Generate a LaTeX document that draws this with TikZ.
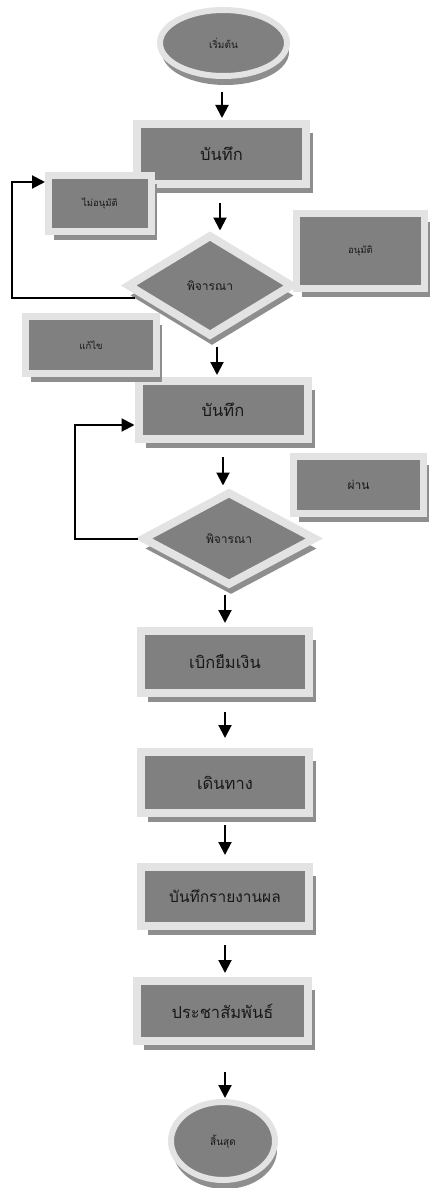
\documentclass[tikz,border=0pt]{standalone}
\usepackage{fontspec}
\newfontfamily\thaifont[Script=Thai]{Loma}
\usetikzlibrary{shapes.geometric,shadows,arrows.meta}
\definecolor{boxgray}{HTML}{808080}
\definecolor{rimgray}{HTML}{E3E3E3}
\definecolor{shadegray}{HTML}{8E8E8E}
\definecolor{txtgray}{HTML}{181818}
\tikzset{
  base/.style={fill=boxgray, draw=rimgray, inner sep=0pt, text=txtgray, align=center},
  proc/.style={base, rectangle, line width=8pt, minimum width=169pt, minimum height=60pt,
     drop shadow={shadow xshift=7pt, shadow yshift=-9pt, fill=shadegray, opacity=1},
     font=\thaifont\fontsize{16.5}{19}\selectfont},
  side/.style={base, rectangle, line width=7pt,
     drop shadow={shadow xshift=5pt, shadow yshift=-8pt, fill=shadegray, opacity=1},
     font=\thaifont\fontsize{9.5}{11}\selectfont},
  decide/.style={base, diamond, line width=8pt, line join=miter,
     drop shadow={shadow xshift=2pt, shadow yshift=-10pt, fill=shadegray, opacity=1},
     font=\thaifont\fontsize{12}{14}\selectfont},
  term/.style={base, ellipse, line width=6pt,
     drop shadow={shadow xshift=2pt, shadow yshift=-9pt, fill=shadegray, opacity=1},
     font=\thaifont\fontsize{10}{12}\selectfont},
  arr/.style={line width=2pt, draw=black, -{Triangle[width=13pt,length=13pt]}}
}
\begin{document}
\begin{tikzpicture}[x=1pt,y=-1pt]
\useasboundingbox[fill=white] (0,0) rectangle (429,1188);
% terminals
\node[term, minimum width=127pt, minimum height=66pt] (start) at (223.5,43) {เริ่มต้น};
\node[term, minimum width=104pt, minimum height=78pt] (stop) at (223,1141) {สิ้นสุด};
% process boxes
\node[proc] (b1) at (221.5,154) {บันทึก};
\node[proc, minimum height=58pt] (b2) at (223,410) {บันทึก};
\node[proc, minimum width=168pt, minimum height=62pt] (b3) at (225,662) {เบิกยืมเงิน};
\node[proc, minimum width=168pt, minimum height=61pt] (b4) at (225,782.5) {เดินทาง};
\node[proc, minimum width=168pt, minimum height=59pt, font=\thaifont\fontsize{15.5}{18}\selectfont] (b5) at (225,896.5) {บันทึกรายงานผล};
\node[proc, minimum width=171pt, minimum height=60pt] (b6) at (222.5,1011) {ประชาสัมพันธ์};
% side boxes
\node[side, minimum width=103pt, minimum height=56pt] (no) at (100,203.5) {ไม่อนุมัติ};
\node[side, minimum width=128pt, minimum height=75pt] (yes) at (360.5,251) {อนุมัติ};
\node[side, minimum width=131pt, minimum height=57pt] (fix) at (91,345) {แก้ไข};
\node[side, minimum width=130pt, minimum height=57pt, font=\thaifont\fontsize{12}{14}\selectfont] (pass) at (358.5,485) {ผ่าน};
% decisions
\node[decide, minimum width=166pt, minimum height=102pt] (d1) at (210,285.5) {พิจารณา};
\node[decide, minimum width=174pt, minimum height=94pt] (d2) at (229,538.5) {พิจารณา};
% helper coordinates
\coordinate (c1) at (222,0);
\coordinate (c2) at (220,0);
\coordinate (c3) at (217,0);
\coordinate (c4) at (223,0);
\coordinate (c5) at (225,0);
\coordinate (r1) at (135,298);
\coordinate (k1) at (12,298);
\coordinate (k2) at (12,182);
\coordinate (k3) at (75,538.5);
\coordinate (k4) at (75,425);
% main flow
\draw[arr, shorten <=13pt, shorten >=2pt] (start.south -| c1) -- (b1.north -| c1);
\draw[arr, shorten <=15pt] (b1.south -| c2) -- (d1.north -| c2);
\draw[arr, shorten <=6pt, shorten >=2pt] (d1.south -| c3) -- (b2.north -| c3);
\draw[arr, shorten <=14pt, shorten >=2pt] (b2.south -| c4) -- (d2.north -| c4);
\draw[arr, shorten <=5pt, shorten >=4pt] (d2.south -| c5) -- (b3.north -| c5);
\draw[arr, shorten <=15pt, shorten >=10pt] (b3.south -| c5) -- (b4.north -| c5);
\draw[arr, shorten <=8pt, shorten >=8pt] (b4.south -| c5) -- (b5.north -| c5);
\draw[arr, shorten <=15pt, shorten >=4pt] (b5.south -| c5) -- (b6.north -| c5);
\draw[arr, shorten <=27pt, shorten >=1pt] (b6.south -| c5) -- (stop.north -| c5);
% loops
\draw[arr] (r1) -- (k1) -- (k2) -- (k2 -| no.west);
\draw[arr] (d2.west) -- (k3) -- (k4) -- (k4 -| b2.west);
\end{tikzpicture}
\end{document}
